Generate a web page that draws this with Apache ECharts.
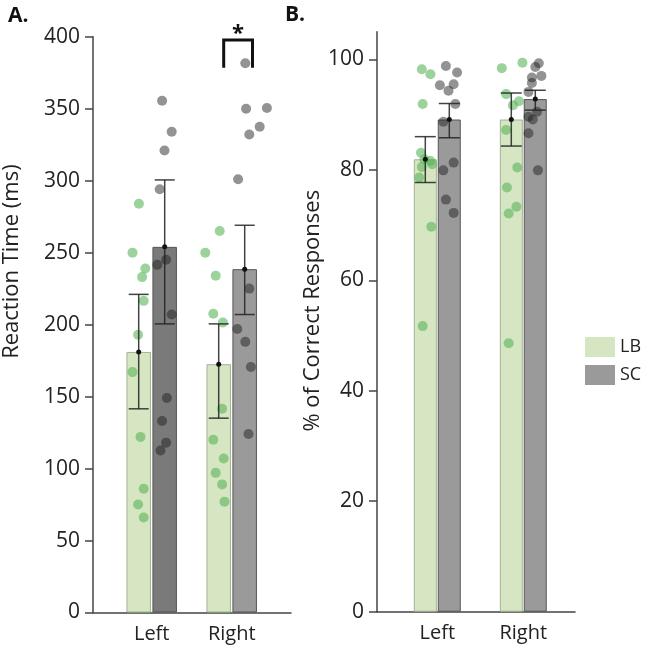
<!DOCTYPE html>
<html>
<head>
<meta charset="utf-8">
<script src="https://cdn.jsdelivr.net/npm/echarts@6/dist/echarts.min.js"></script>
<style>
html, body { margin: 0; padding: 0; background: #ffffff; }
#chart { width: 647px; height: 648px; }
</style>
</head>
<body>
<div id="chart"></div>
<script>
// categories
var sides = ['Left', 'Right']

// A. reaction time (ms): means and error bar ends
var rtLB = [181, 172.5]
var rtSC = [254, 238.5]
var rtLBLow = [141.5, 135]
var rtLBHigh = [221, 200.5]
var rtSCLow = [200.5, 207]
var rtSCHigh = [300.5, 269]

// B. % of correct responses
var accLB = [81.9, 89.1]
var accSC = [89.1, 92.8]
var accLBLow = [77.7, 84.3]
var accLBHigh = [86, 93.9]
var accSCLow = [85.8, 90.8]
var accSCHigh = [92, 94.4]

// individual subjects, [jittered x (0-2 across both groups), value]
var rtLBDots = [
  [0.34, 284], [0.26, 250], [0.42, 239], [0.38, 233], [0.40, 216.5], [0.33, 193],
  [0.26, 167], [0.36, 122], [0.40, 86], [0.33, 75], [0.40, 66],
  [1.35, 265], [1.17, 250], [1.30, 234], [1.27, 207.5], [1.39, 201.5], [1.38, 141.5],
  [1.27, 120], [1.40, 107], [1.30, 97], [1.38, 89], [1.41, 77]
]
var rtSCDots = [
  [0.63, 355.5], [0.75, 334], [0.66, 321], [0.60, 294], [0.68, 245], [0.57, 241.5],
  [0.75, 207], [0.69, 149], [0.63, 133], [0.68, 118], [0.61, 112.5],
  [1.67, 381.5], [1.68, 350], [1.94, 350.5], [1.85, 337.5], [1.72, 332], [1.58, 301],
  [1.72, 225], [1.57, 197], [1.67, 188], [1.74, 170.5], [1.71, 124]
]
var accLBDots = [
  [0.32, 98.2], [0.42, 97.3], [0.33, 91.9], [0.31, 83.1], [0.35, 81.9], [0.42, 81.6],
  [0.44, 81], [0.32, 80.5], [0.29, 78.6], [0.43, 69.7], [0.33, 51.7],
  [1.25, 98.4], [1.49, 99.4], [1.30, 93.7], [1.45, 92.4], [1.38, 91.7], [1.30, 87.2],
  [1.43, 80.4], [1.31, 76.8], [1.42, 73.3], [1.33, 72.1], [1.33, 48.6]
]
var accSCDots = [
  [0.60, 98.8], [0.73, 97.6], [0.53, 95.3], [0.69, 95.5], [0.63, 94.3], [0.71, 91.9],
  [0.57, 88.7], [0.69, 81.3], [0.57, 79.9], [0.60, 74.6], [0.69, 72.2],
  [1.68, 99.3], [1.64, 98.6], [1.71, 97], [1.60, 96.7], [1.60, 95.7], [1.56, 94.1],
  [1.66, 90.5], [1.56, 89.6], [1.61, 89.1], [1.56, 86.6], [1.67, 79.9]
]

// significance bracket over Right in A
var sigX = [1.40, 1.76]
var sigY = [378.5, 397.7]

var FONT = 'Open Sans'
var LB_COLOR = '#d6e6c2'
var SC_COLOR = '#9a9a9a'
var SC_DARK = '#7a7a7a'
var AXIS_COLOR = '#444'

function frameX (grid) {
  return {
    gridIndex: grid, type: 'value', min: 0, max: 1,
    axisLine: {show: true, lineStyle: {color: AXIS_COLOR, width: 1.5}},
    axisTick: {show: false}, axisLabel: {show: false}, splitLine: {show: false}
  }
}
function catX (grid) {
  return {
    gridIndex: grid, type: 'category', data: sides,
    axisLine: {show: false}, axisTick: {show: false},
    axisLabel: {fontSize: 20, color: '#222', margin: 12, fontFamily: FONT}
  }
}
function dotX (grid) {
  return {gridIndex: grid, type: 'value', min: 0, max: 2, show: false, splitLine: {show: false}}
}
function hiddenY (grid, max) {
  return {gridIndex: grid, type: 'value', min: 0, max: max, show: false, splitLine: {show: false}}
}

function barSeries (name, x, y, values, color, border, width, gap, itemColors) {
  return {
    name: name, type: 'bar', xAxisIndex: x, yAxisIndex: y,
    barWidth: width, barGap: gap, z: 2,
    itemStyle: {color: color, borderColor: border, borderWidth: 1},
    data: values.map(function (v, i) {
      return itemColors ? {value: v, itemStyle: {color: itemColors[i]}} : v
    })
  }
}

function dotSeries (x, y, pts, color) {
  return {
    type: 'scatter', xAxisIndex: x, yAxisIndex: y, z: 3,
    symbolSize: 10, itemStyle: {color: color},
    data: pts
  }
}

// error bars drawn on the category axis, shifted to the bar's centre
function errSeries (x, y, means, lows, highs, shift, cap) {
  return {
    type: 'custom', xAxisIndex: x, yAxisIndex: y, z: 4,
    data: means.map(function (m, i) { return [i, lows[i], highs[i], m] }),
    renderItem: function (params, api) {
      var c = api.value(0)
      var lo = api.coord([c, api.value(1)])
      var hi = api.coord([c, api.value(2)])
      var md = api.coord([c, api.value(3)])
      var px = lo[0] + shift
      var st = {stroke: '#222', lineWidth: 1.5, opacity: 0.85}
      return {
        type: 'group',
        children: [
          {type: 'line', shape: {x1: px, y1: lo[1], x2: px, y2: hi[1]}, style: st},
          {type: 'line', shape: {x1: px - cap, y1: lo[1], x2: px + cap, y2: lo[1]}, style: st},
          {type: 'line', shape: {x1: px - cap, y1: hi[1], x2: px + cap, y2: hi[1]}, style: st},
          {type: 'circle', shape: {cx: px, cy: md[1], r: 2.5}, style: {fill: '#111'}}
        ]
      }
    }
  }
}

var chart = echarts.init(document.getElementById('chart'))
chart.setOption({
  animation: false,
  title: [
    {text: 'A.', left: 3, top: 1, textStyle: {fontSize: 21, fontWeight: 'bold', color: '#111', fontFamily: FONT}},
    {text: 'B.', left: 280, top: 0, textStyle: {fontSize: 21, fontWeight: 'bold', color: '#111', fontFamily: FONT}}
  ],
  legend: {
    data: ['LB', 'SC'], orient: 'vertical', left: 580, top: 332,
    itemWidth: 30, itemHeight: 20, itemGap: 8, icon: 'rect',
    itemStyle: {borderWidth: 0},
    textStyle: {fontSize: 18, color: '#222', fontFamily: FONT}
  },
  grid: [
    {left: 93, top: 36.7, width: 198, height: 575.8},
    {left: 111.7, top: 36.7, width: 160, height: 575.8},
    {left: 377, top: 31.7, width: 198, height: 580},
    {left: 394.3, top: 31.7, width: 172, height: 580}
  ],
  xAxis: [frameX(0), catX(1), dotX(1), frameX(2), catX(3), dotX(3)],
  yAxis: [
    {
      gridIndex: 0, type: 'value', min: 0, max: 400, interval: 50,
      name: 'Reaction Time (ms)', nameLocation: 'middle', nameGap: 70,
      nameTextStyle: {fontSize: 22, color: '#222', fontFamily: FONT, padding: [0, 0, 0, 126]},
      axisLine: {show: true, lineStyle: {color: AXIS_COLOR, width: 1.5}},
      axisTick: {show: true, length: 8, lineStyle: {color: AXIS_COLOR, width: 1.5}},
      axisLabel: {fontSize: 21, color: '#222', margin: 13, fontFamily: FONT},
      splitLine: {show: false}
    },
    hiddenY(1, 400),
    {
      gridIndex: 2, type: 'value', min: 0, max: 105,
      name: '% of Correct Responses', nameLocation: 'middle', nameGap: 46,
      nameTextStyle: {fontSize: 22, color: '#222', fontFamily: FONT, padding: [0, 0, 0, 22]},
      axisLine: {show: true, lineStyle: {color: AXIS_COLOR, width: 1.5}},
      axisTick: {show: true, length: 8, customValues: [0, 20, 40, 60, 80, 100], lineStyle: {color: AXIS_COLOR, width: 1.5}},
      axisLabel: {fontSize: 21, color: '#222', margin: 13, fontFamily: FONT, customValues: [0, 20, 40, 60, 80, 100]},
      splitLine: {show: false}
    },
    hiddenY(3, 105)
  ],
  series: [
    barSeries('LB', 1, 1, rtLB, LB_COLOR, '#a3b394', 24.5, '6%'),
    barSeries('SC', 1, 1, rtSC, SC_COLOR, '#555', 24.5, '6%', [SC_DARK, SC_COLOR]),
    barSeries('LB', 4, 3, accLB, LB_COLOR, '#a3b394', 23, '4%'),
    barSeries('SC', 4, 3, accSC, SC_COLOR, '#555', 23, '4%'),
    dotSeries(2, 1, rtLBDots, 'rgba(90,180,90,0.75)'),
    dotSeries(2, 1, rtSCDots, 'rgba(30,30,30,0.6)'),
    dotSeries(5, 3, accLBDots, 'rgba(90,180,90,0.75)'),
    dotSeries(5, 3, accSCDots, 'rgba(30,30,30,0.6)'),
    errSeries(1, 1, rtLB, rtLBLow, rtLBHigh, -13, 10),
    errSeries(1, 1, rtSC, rtSCLow, rtSCHigh, 13, 10),
    errSeries(4, 3, accLB, accLBLow, accLBHigh, -12, 10.5),
    errSeries(4, 3, accSC, accSCLow, accSCHigh, 12, 10.5),
    {
      type: 'custom', xAxisIndex: 2, yAxisIndex: 1, z: 5,
      data: [[sigX[0], sigY[0], sigX[1], sigY[1]]],
      renderItem: function (params, api) {
        var a = api.coord([api.value(0), api.value(1)])
        var b = api.coord([api.value(2), api.value(3)])
        return {
          type: 'group',
          children: [
            {type: 'polyline', shape: {points: [[a[0], a[1]], [a[0], b[1]], [b[0], b[1]], [b[0], a[1]]]},
              style: {stroke: '#111', lineWidth: 3, fill: null}},
            {type: 'text', style: {text: '*', x: (a[0] + b[0]) / 2, y: b[1] + 5, align: 'center', verticalAlign: 'bottom',
              fontSize: 22, fontWeight: 'bold', fill: '#111', fontFamily: FONT}}
          ]
        }
      }
    }
  ]
})
</script>
</body>
</html>
